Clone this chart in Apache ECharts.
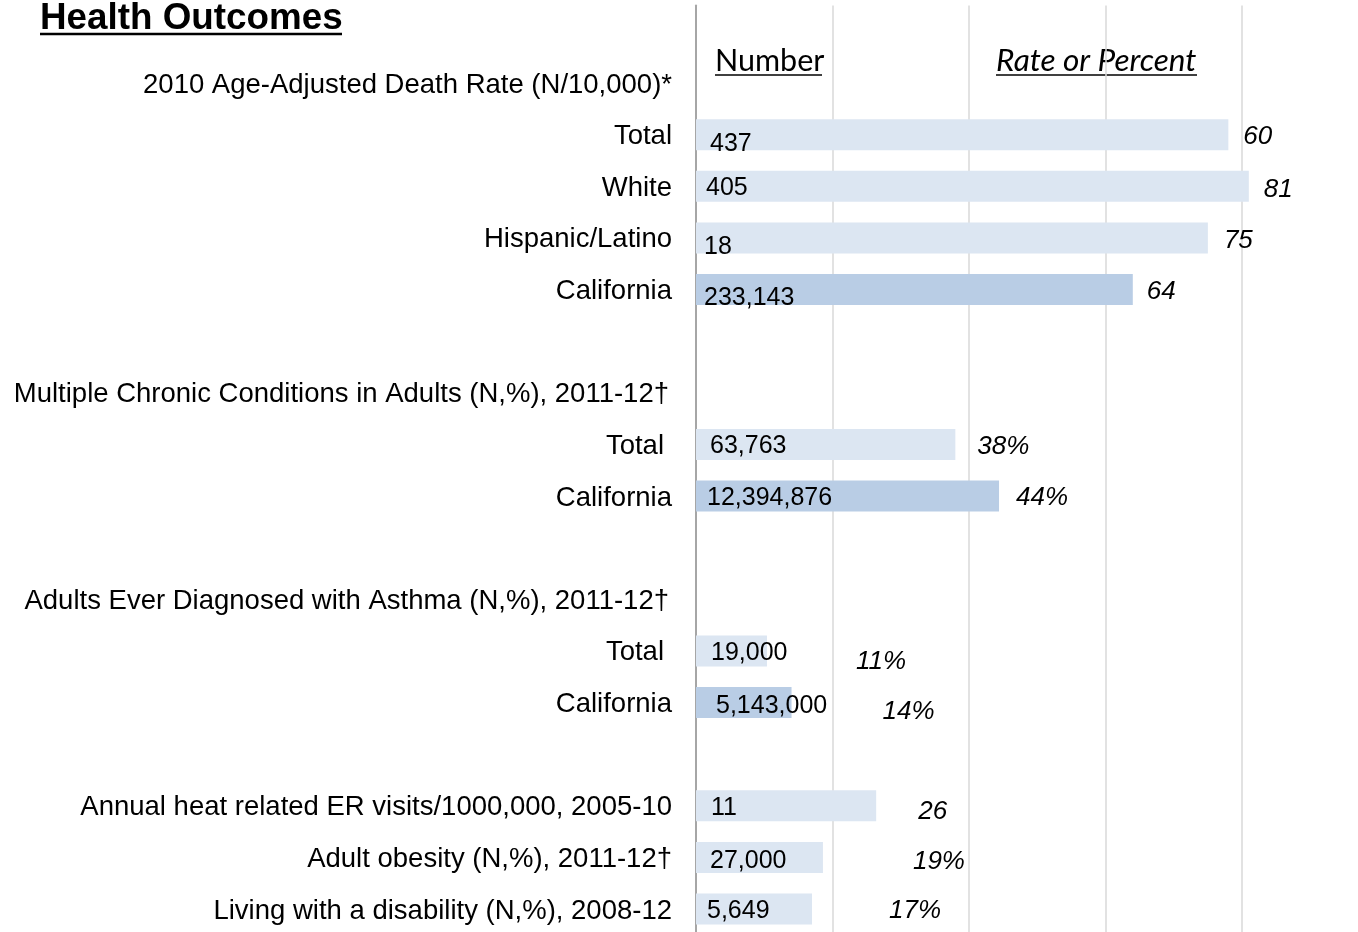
<!DOCTYPE html>
<html>
<head>
<meta charset="utf-8">
<script src="https://cdn.jsdelivr.net/npm/echarts@6/dist/echarts.min.js"></script>
<style>
html,body{margin:0;padding:0;background:#fff;}
#chart{width:1358px;height:932px;}
</style>
</head>
<body>
<div id="chart"></div>
<script>
// ---- data ----
const rowLabels = [
  '',
  '2010 Age-Adjusted Death Rate (N/10,000)*',
  'Total', 'White', 'Hispanic/Latino', 'California',
  '',
  'Multiple Chronic Conditions in Adults (N,%), 2011-12\u2020',
  'Total', 'California',
  '',
  'Adults Ever Diagnosed with Asthma (N,%), 2011-12\u2020',
  'Total', 'California',
  '',
  'Annual heat related ER visits/1000,000, 2005-10',
  'Adult obesity (N,%), 2011-12\u2020',
  'Living with a disability (N,%), 2008-12'
];
const barValues = [null, null, 78, 81, 75, 64, null, null, 38, 44.4, null, null, 10.4, 14, null, 26.4, 18.6, 17];
const numberLabels = ['', '', '437', '405', '18', '233,143', '', '', '63,763', '12,394,876', '', '', '19,000', '5,143,000', '', '11', '27,000', '5,649'];
const rateLabels = ['', '', '60', '81', '75', '64', '', '', '38%', '44%', '', '', '11%', '14%', '', '26', '19%', '17%'];
const headerNumber = 'Number';
const headerRate = 'Rate or Percent';
const titleText = 'Health Outcomes';

// ---- layout / style (label nudges in px) ----
const numDx = [0,0,14,10,8,8,0,0,14,11,0,0,15,20,0,15,14,11];
const numDy = [0,0,9,2,9,9,0,0,2,2,0,0,2,4,0,2,4,2];
const rateGap = [0,0,15,15,16,14,0,0,22,17,0,0,89,91,0,42,90,77];
const rateDy = [0,0,2,3,3,2,0,0,2,2,0,0,11,9,0,6,4,2];
const labelRightPad = {7:3, 8:8, 11:3, 12:8};

const FONT = '"Liberation Sans", Arial, sans-serif';
const HFONT = 'Lato, "Open Sans", sans-serif';
const LIGHT = '#dce6f2';
const DARK = '#b9cde5';

const chart = echarts.init(document.getElementById('chart'), null, {renderer:'canvas'});

const rich = {
  n: {fontSize: 27.5, fontFamily: FONT, color: '#000', padding: [4,0,0,0]},
  p3: {fontSize: 27.5, fontFamily: FONT, color: '#000', padding: [4,3,0,0]},
  p8: {fontSize: 27.5, fontFamily: FONT, color: '#000', padding: [4,8,0,0]}
};

const option = {
  animation: false,
  backgroundColor: '#fff',
  grid: {left: 696, top: 5.6, width: 682.5, height: 929.25, outerBoundsMode: 'none', containLabel: false},
  xAxis: {
    type: 'value', min: 0, max: 100, interval: 20,
    axisLabel: {show: false}, axisLine: {show: false}, axisTick: {show: false},
    splitLine: {show: true, lineStyle: {color: '#d9d9d9', width: 1.5}}
  },
  yAxis: {
    type: 'category', inverse: true,
    data: rowLabels.map((_, i) => 'r' + i),
    axisLine: {show: true, lineStyle: {color: '#a6a6a6', width: 2}},
    axisTick: {show: false},
    splitLine: {show: false},
    axisLabel: {
      interval: 0, margin: 24,
      formatter: function (v) {
        const i = +v.slice(1);
        const t = rowLabels[i];
        if (!t) return '';
        const s = labelRightPad[i] === 3 ? 'p3' : (labelRightPad[i] === 8 ? 'p8' : 'n');
        return '{' + s + '|' + t + '}';
      },
      rich: rich
    }
  },
  series: [
    {
      type: 'bar',
      barWidth: 31,
      barGap: '-100%',
      data: barValues.map((v, i) => ({
        value: v,
        itemStyle: {color: rowLabels[i] === 'California' ? DARK : LIGHT},
        label: {offset: [numDx[i], numDy[i]]}
      })),
      label: {
        show: true, position: 'insideLeft', distance: 0,
        formatter: p => numberLabels[p.dataIndex],
        fontSize: 25, fontFamily: FONT, color: '#000'
      },
      silent: true
    },
    {
      type: 'bar',
      barWidth: 31,
      barGap: '-100%',
      data: barValues.map((v, i) => ({
        value: v,
        label: {distance: rateGap[i], offset: [0, rateDy[i]]}
      })),
      itemStyle: {color: 'rgba(0,0,0,0)'},
      label: {
        show: true, position: 'right',
        formatter: p => rateLabels[p.dataIndex],
        fontSize: 26, fontFamily: FONT, fontStyle: 'italic', color: '#000'
      },
      silent: true
    }
  ],
  graphic: [
    {type: 'text', x: 40, y: 19, style: {text: titleText, fontSize: 36.8, fontWeight: 'bold', fontFamily: FONT, fill: '#000', align: 'left', verticalAlign: 'middle'}},
    {type: 'line', shape: {x1: 40, y1: 34, x2: 342, y2: 34}, style: {stroke: '#000', lineWidth: 2.5}},
    {type: 'text', x: 715, y: 61, style: {text: headerNumber, fontSize: 30.5, fontFamily: HFONT, fill: '#000', align: 'left', verticalAlign: 'middle'}},
    {type: 'line', shape: {x1: 715, y1: 75, x2: 822, y2: 75}, style: {stroke: '#000', lineWidth: 1.5}},
    {type: 'text', x: 996, y: 61, style: {text: headerRate, fontSize: 31.5, fontStyle: 'italic', fontFamily: HFONT, fill: '#000', align: 'left', verticalAlign: 'middle'}},
    {type: 'line', shape: {x1: 996, y1: 75, x2: 1197, y2: 75}, style: {stroke: '#000', lineWidth: 1.5}}
  ]
};
chart.setOption(option);
</script>
</body>
</html>
